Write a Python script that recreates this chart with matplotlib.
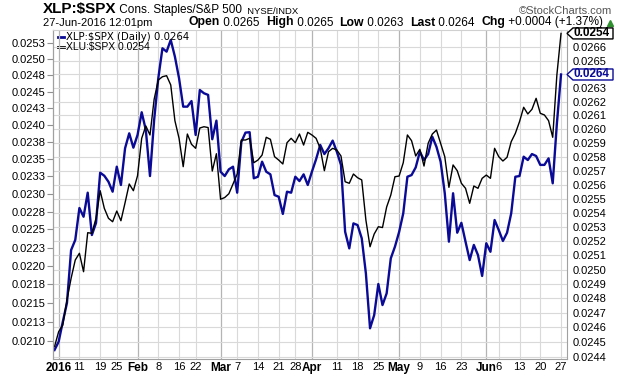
import numpy as np
import pandas as pd
import matplotlib
matplotlib.use('Agg')
import matplotlib.pyplot as plt
from matplotlib.ticker import FixedLocator, FixedFormatter, NullLocator
from matplotlib.patches import Polygon
from matplotlib.lines import Line2D

# ---------------- data ----------------
holidays = ['2016-01-01', '2016-01-18', '2016-02-15', '2016-03-25', '2016-05-30']
dates = pd.bdate_range('2015-12-31', '2016-06-27')
dates = dates[~dates.isin(pd.to_datetime(holidays))]

xlp = [0.024445, 0.024502, 0.024639, 0.024768, 0.025137, 0.025208, 0.025434, 0.025372, 0.025543, 0.025243,
       0.025328, 0.025686, 0.025664, 0.025621, 0.02555, 0.025729, 0.025598, 0.025862, 0.02597, 0.025866,
       0.025958, 0.026123, 0.025994, 0.025662, 0.026067, 0.026372, 0.026594, 0.026569, 0.026656, 0.026532,
       0.026372, 0.026164, 0.026164, 0.026205, 0.025958, 0.026286, 0.026262, 0.02625, 0.025927, 0.026062,
       0.025693, 0.025662, 0.02571, 0.025729, 0.025543, 0.025907, 0.025975, 0.025978, 0.025646, 0.025657,
       0.025765, 0.025693, 0.025674, 0.025526, 0.025514, 0.025392, 0.02555, 0.025543, 0.025657, 0.025626,
       0.025674, 0.025598, 0.025693, 0.025782, 0.025886, 0.02582, 0.025862, 0.025917, 0.025837, 0.025742,
       0.025266, 0.025149, 0.025325, 0.025313, 0.02522, 0.024974, 0.024594, 0.024685, 0.0249, 0.024754,
       0.024835, 0.025079, 0.025161, 0.025264, 0.025396, 0.025657, 0.025669, 0.025724, 0.025837, 0.025777,
       0.02582, 0.025945, 0.025872, 0.025765, 0.025539, 0.025196, 0.025539, 0.025259, 0.025329, 0.025196,
       0.025067, 0.025173, 0.025102, 0.024956, 0.025185, 0.025125, 0.025349, 0.025278, 0.025201, 0.025259,
       0.025396, 0.025657, 0.025662, 0.025801, 0.025777, 0.02582, 0.025806, 0.025742, 0.025742, 0.025789,
       0.02561, 0.02604, 0.0264]

xlu = [0.020927, 0.021121, 0.021209, 0.02154, 0.021831, 0.022079, 0.022171, 0.02192, 0.022455, 0.022447,
       0.022656, 0.023046, 0.022796, 0.022656, 0.022608, 0.022758, 0.022622, 0.022876, 0.023142, 0.023046,
       0.02326, 0.023805, 0.023987, 0.023854, 0.024386, 0.024679, 0.024729, 0.024745, 0.024603, 0.024066,
       0.023805, 0.023391, 0.023868, 0.023717, 0.023658, 0.023957, 0.023976, 0.023964, 0.023328, 0.023579,
       0.022924, 0.022949, 0.023003, 0.023142, 0.023285, 0.02378, 0.02378, 0.023805, 0.023448, 0.023487,
       0.02356, 0.02382, 0.02379, 0.023536, 0.023487, 0.02343, 0.02374, 0.023805, 0.02374, 0.023868,
       0.023706, 0.023893, 0.023854, 0.023805, 0.023658, 0.023333, 0.023609, 0.023658, 0.023633, 0.023546,
       0.023174, 0.023152, 0.023285, 0.023232, 0.0232, 0.022632, 0.022261, 0.022437, 0.022538, 0.022527,
       0.022815, 0.022984, 0.023246, 0.023256, 0.023448, 0.023854, 0.02377, 0.023546, 0.023643, 0.0234,
       0.023731, 0.023868, 0.023927, 0.023731, 0.023536, 0.023094, 0.023416, 0.023333, 0.023152, 0.02308,
       0.022867, 0.023113, 0.02308, 0.023223, 0.02327, 0.023223, 0.023658, 0.023536, 0.023473, 0.023527,
       0.023755, 0.023878, 0.024051, 0.024266, 0.024166, 0.024236, 0.024401, 0.024176, 0.024151, 0.024066,
       0.02382, 0.024755, 0.0254]

tick_dates = ['2016-01-04', '2016-01-11', '2016-01-19', '2016-01-25', '2016-02-01', '2016-02-08',
              '2016-02-16', '2016-02-22', '2016-03-01', '2016-03-07', '2016-03-14', '2016-03-21',
              '2016-03-28', '2016-04-01', '2016-04-11', '2016-04-18', '2016-04-25', '2016-05-02',
              '2016-05-09', '2016-05-16', '2016-05-23', '2016-06-01', '2016-06-06', '2016-06-13',
              '2016-06-20', '2016-06-27']
tick_labels = ['2016', '11', '19', '25', 'Feb', '8', '16', '22', 'Mar', '7', '14', '21', '28',
               'Apr', '11', '18', '25', 'May', '9', '16', '23', 'Jun', '6', '13', '20', '27']
tick_is_month = [True, False, False, False, True, False, False, False, True, False, False, False, False,
                 True, False, False, False, True, False, False, False, True, False, False, False, False]

left_ticks = [0.0210, 0.02125, 0.0215, 0.02175, 0.0220, 0.02225, 0.0225, 0.02275, 0.0230, 0.02325,
              0.0235, 0.02375, 0.0240, 0.02425, 0.0245, 0.02475, 0.0250, 0.02525]
left_labels = ['0.0210', '0.0213', '0.0215', '0.0218', '0.0220', '0.0223', '0.0225', '0.0228', '0.0230',
               '0.0233', '0.0235', '0.0238', '0.0240', '0.0243', '0.0245', '0.0248', '0.0250', '0.0253']
# 0.0264 is shown by the last-value box instead of a plain tick label
right_ticks = [0.0244, 0.0245, 0.0246, 0.0247, 0.0248, 0.0249, 0.0250, 0.0251, 0.0252, 0.0253, 0.0254,
               0.0255, 0.0256, 0.0257, 0.0258, 0.0259, 0.0260, 0.0261, 0.0262, 0.0263, 0.0264, 0.0265, 0.0266]
right_labels = ['0.0244', '0.0245', '0.0246', '0.0247', '0.0248', '0.0249', '0.0250', '0.0251', '0.0252',
                '0.0253', '0.0254', '0.0255', '0.0256', '0.0257', '0.0258', '0.0259', '0.0260', '0.0261',
                '0.0262', '0.0263', '', '0.0265', '0.0266']

left_lim = (0.020768, 0.025454)
right_lim = (0.024384, 0.026730)

BLUE = '#0a0a96'
W, H = 620, 376
FONT = 'Liberation Sans'

# ---------------- figure ----------------
fig = plt.figure(figsize=(W / 100, H / 100), dpi=100)
fig.patch.set_facecolor('white')
ax_l = fig.add_axes([53 / W, 17 / H, 514 / W, 329 / H])
ax_r = ax_l.twinx()
ax_l.set_zorder(3)
ax_r.set_zorder(2)
ax_l.patch.set_visible(False)
ax_r.patch.set_visible(False)

x = np.arange(len(dates))
xlim = (-0.36, 123.44)

for ax in (ax_l, ax_r):
    ax.set_yscale('log')
    ax.set_xlim(*xlim)

ax_l.set_ylim(*left_lim)
ax_r.set_ylim(*right_lim)

ax_l.yaxis.set_major_locator(FixedLocator(left_ticks))
ax_l.yaxis.set_major_formatter(FixedFormatter(left_labels))
ax_l.yaxis.set_minor_locator(NullLocator())
ax_r.yaxis.set_major_locator(FixedLocator(right_ticks))
ax_r.yaxis.set_major_formatter(FixedFormatter(right_labels))
ax_r.yaxis.set_minor_locator(NullLocator())

# horizontal grid (right-axis ticks)
ax_r.grid(axis='y', color='#d9d9d9', linewidth=0.8)
ax_r.set_axisbelow(True)

# vertical grid
tick_pos = [int(np.where(dates == pd.Timestamp(d))[0][0]) for d in tick_dates]
for p, m in zip(tick_pos, tick_is_month):
    ax_r.axvline(p, color='#b4b4b4' if m else '#d9d9d9', linewidth=0.9 if m else 0.8, zorder=0)

ax_l.set_xticks(tick_pos)
ax_l.set_xticklabels(tick_labels)
for lab, m in zip(ax_l.get_xticklabels(), tick_is_month):
    lab.set_fontweight('bold' if m else 'normal')
    lab.set_fontsize(8.5 if m else 8)
    lab.set_family(FONT)
ax_l.tick_params(axis='x', length=0, pad=2.5, colors='black')
ax_l.tick_params(axis='y', length=4, width=0.8, color='#909090', pad=1.5, labelsize=8)
ax_r.tick_params(axis='y', length=0, pad=4, labelsize=8)
for lab in ax_l.get_yticklabels() + ax_r.get_yticklabels():
    lab.set_family(FONT)

# lines
ax_r.plot(x, xlp, color=BLUE, linewidth=1.7, solid_joinstyle='round')
ax_l.plot(x, xlu, color='black', linewidth=1.0, solid_joinstyle='round')

# spines
for ax in (ax_l, ax_r):
    for s in ax.spines.values():
        s.set_visible(False)
ax_l.spines['left'].set_visible(True)
ax_l.spines['left'].set_color('#a0a0a0')
ax_l.spines['left'].set_linewidth(0.9)
ax_r.spines['right'].set_visible(True)
ax_r.spines['right'].set_color('#a0a0a0')
ax_r.spines['right'].set_linestyle((0, (1, 1)))
ax_r.spines['right'].set_linewidth(0.8)
ax_l.spines['bottom'].set_visible(True)
ax_l.spines['bottom'].set_color('#a0a0a0')
ax_l.spines['bottom'].set_linestyle((0, (1, 1)))
ax_l.spines['bottom'].set_linewidth(0.8)
ax_l.spines['top'].set_visible(True)
ax_l.spines['top'].set_color('#d0d0d0')
ax_l.spines['top'].set_linewidth(0.8)

renderer = fig.canvas.get_renderer()


def fx(px):
    return px / W


def fy(py):
    return 1 - py / H


# legend inside plot
fig.add_artist(Line2D([fx(58), fx(64)], [fy(36.5), fy(36.5)], color=BLUE, linewidth=2.0))
fig.text(fx(66), fy(36.5), 'XLP:$SPX (Daily) 0.0264', fontsize=7.3, family='DejaVu Sans',
         va='center', ha='left')
fig.add_artist(Line2D([fx(58), fx(64)], [fy(47), fy(47)], color='black', linewidth=2.0))
fig.text(fx(66), fy(47), 'XLU:$SPX 0.0254', fontsize=7.5, family=FONT, va='center', ha='left')


# last-value boxes on right axis
def value_box(ax, val, color, label):
    ypix = ax.transData.transform((0, val))[1]
    xr = ax.transAxes.transform((1, 0))[0]
    h = 5.5
    pts = [(xr, ypix), (xr + 6, ypix + h), (xr + 46, ypix + h), (xr + 46, ypix - h), (xr + 6, ypix - h)]
    pts = [(px / W, py / H) for px, py in pts]
    poly = Polygon(pts, closed=True, transform=fig.transFigure, facecolor='white', edgecolor=color,
                   linewidth=1.0, zorder=10)
    fig.add_artist(poly)
    fig.text((xr + 7) / W, ypix / H, label, color=color, fontsize=8.5, fontweight='bold',
             family=FONT, ha='left', va='center', zorder=11)


value_box(ax_l, xlu[-1], 'black', '0.0254')
value_box(ax_r, xlp[-1], BLUE, '0.0264')


# header text runs
def make_run(parts, y):
    texts = []
    widths = []
    for s, kw in parts:
        t = fig.text(0, fy(y), s, ha='left', va='baseline', **kw)
        texts.append(t)
        widths.append(t.get_window_extent(renderer).width)
    return texts, widths


def place(texts, widths, x0):
    xx = x0
    for t, w in zip(texts, widths):
        t.set_x(fx(xx))
        xx += w
    return xx


t1, w1 = make_run([
    ('XLP:$SPX', dict(fontsize=11, fontweight='bold', family=['Liberation Sans Narrow', FONT])),
    (' Cons. Staples/S&P 500', dict(fontsize=8.5, family=['Liberation Sans Narrow', FONT])),
    ('  NYSE/INDX', dict(fontsize=6.8, family=FONT)),
], 13.5)
place(t1, w1, 43)

t2, w2 = make_run([('27-Jun-2016 12:01pm', dict(fontsize=8, family=FONT))], 25.5)
place(t2, w2, 43)

b = dict(fontsize=8.8, fontweight='bold', family=['Liberation Sans Narrow', FONT])
r = dict(fontsize=8.5, family=FONT)
t3, w3 = make_run([
    ('Open', b), (' 0.0265  ', r), ('High', b), (' 0.0265  ', r), ('Low', b), (' 0.0263  ', r),
    ('Last', b), (' 0.0264  ', r), ('Chg', b), (' +0.0004 (+1.37%)', r)], 25.5)
place(t3, w3, 603 - sum(w3))
fig.add_artist(Line2D([fx(610)], [fy(23)], marker='^', color='#2f8f2f', markersize=4.5, linestyle='none'))

fig.text(fx(612), fy(13.5), '\u00a9StockCharts.com', fontsize=8, color='#555555', family=FONT,
         ha='right', va='baseline')

fig.savefig('out.png', dpi=100, facecolor='white')
